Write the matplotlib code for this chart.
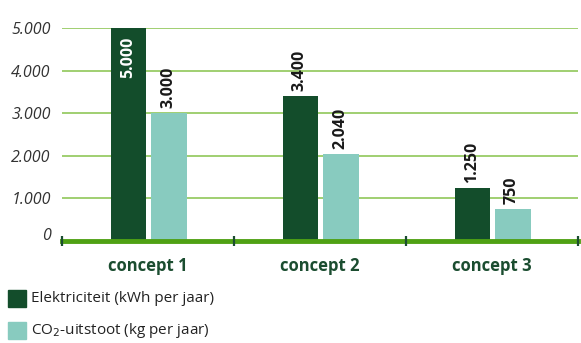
import matplotlib

matplotlib.use("Agg")

import matplotlib.pyplot as plt
import numpy as np

categories = ["concept 1", "concept 2", "concept 3"]
elektriciteit = [5000, 3400, 1250]
co2 = [3000, 2040, 750]
elek_labels = ["5.000", "3.400", "1.250"]
co2_labels = ["3.000", "2.040", "750"]
y_ticks = [0, 1000, 2000, 3000, 4000, 5000]
y_tick_labels = ["0", "1.000", "2.000", "3.000", "4.000", "5.000"]

DARK = "#134d2b"
LIGHT = "#88cbbf"
GRID = "#86c24a"
AXIS = "#4fa114"
TEXT_GREEN = "#1b4d30"

plt.rcParams["font.family"] = ["Open Sans", "DejaVu Sans"]

W, H = 581, 343
fig = plt.figure(figsize=(W / 100, H / 100), dpi=100)
ax = fig.add_axes([62 / W, (H - 241) / H, (578 - 62) / W, (241 - 28) / H])

x = np.arange(len(categories))
width = 0.205
off = 0.117
ax.bar(x - off + 0.005, elektriciteit, width, color=DARK, zorder=3)
ax.bar(x + off + 0.005, co2, width, color=LIGHT, zorder=3)

VAL_FS = 11.5
for i, (v, lab) in enumerate(zip(elektriciteit, elek_labels)):
    if v >= 5000:
        ax.text(x[i] - off, v - 200, lab, rotation=90, ha="center", va="top",
                color="white", fontsize=VAL_FS, fontweight="bold", zorder=4)
    else:
        ax.text(x[i] - off, v + 120, lab, rotation=90, ha="center", va="bottom",
                color="#1a1a1a", fontsize=VAL_FS, fontweight="bold", zorder=4)
for i, (v, lab) in enumerate(zip(co2, co2_labels)):
    ax.text(x[i] + off, v + 120, lab, rotation=90, ha="center", va="bottom",
            color="#1a1a1a", fontsize=VAL_FS, fontweight="bold", zorder=4)

ax.set_xlim(-0.5, len(categories) - 0.5)
ax.set_ylim(0, 5000)
ax.set_yticks(y_ticks[1:])
ax.set_yticklabels(y_tick_labels[1:], fontstyle="italic", fontsize=11.5, color="#333333")
ax.tick_params(axis="y", length=0, pad=8)
ax.annotate("0", xy=(0, 0), xycoords="axes fraction", xytext=(-8, 1),
            textcoords="offset points", ha="right", va="baseline",
            fontstyle="italic", fontsize=11.5, color="#333333")
for yv in y_ticks[1:]:
    ax.axhline(yv, color=GRID, linewidth=1.1, zorder=1)

for s in ["top", "right", "left", "bottom"]:
    ax.spines[s].set_visible(False)
ax.axhline(0, color=AXIS, linewidth=3.5, zorder=5, clip_on=False)

ax.set_xticks([])
for b in np.arange(-0.5, len(categories), 1.0):
    ax.plot([b, b], [-110, 110], color=TEXT_GREEN, linewidth=1.6, zorder=6,
            clip_on=False, solid_capstyle="butt")
for i, c in enumerate(categories):
    ax.text(x[i], -580, c, ha="center", va="center", color=TEXT_GREEN,
            fontsize=12, fontweight="bold")

# legend
fig.patches.append(plt.Rectangle((8 / W, (H - 307) / H), 18 / W, 17 / H,
                                 transform=fig.transFigure, color=DARK))
fig.patches.append(plt.Rectangle((8 / W, (H - 339) / H), 18 / W, 17 / H,
                                 transform=fig.transFigure, color=LIGHT))
fig.text(31 / W, (H - 299) / H, "Elektriciteit (kWh per jaar)", va="center",
         fontsize=11, color="#222222")
fig.text(31 / W, (H - 331) / H, "CO$_2$-uitstoot (kg per jaar)", va="center",
         fontsize=11, color="#222222")

fig.savefig("out.png", dpi=100)
